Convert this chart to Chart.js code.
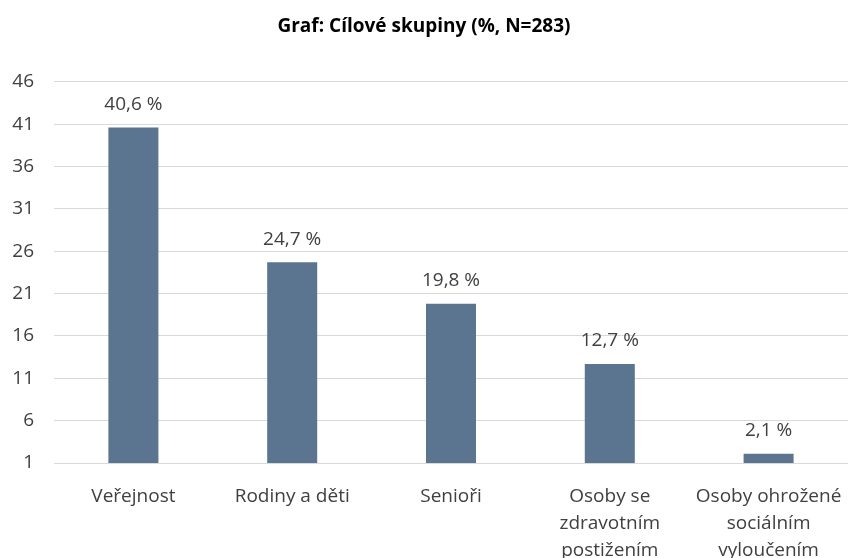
<!DOCTYPE html>
<html>
<head>
<meta charset="utf-8">
<script src="https://cdn.jsdelivr.net/npm/chart.js@4"></script>
<style>
  body { margin: 0; background: #fff; }
  #wrap { width: 850px; height: 558px; }
</style>
</head>
<body>
<div id="wrap"><canvas id="skupinyChart"></canvas></div>
<script>
var categories = ['Veřejnost', 'Rodiny a děti', 'Senioři', ['Osoby se', 'zdravotním', 'postižením'], ['Osoby ohrožené', 'sociálním', 'vyloučením']];
var values = [40.6, 24.7, 19.8, 12.7, 2.1];
var tickValues = [1, 6, 11, 16, 21, 26, 31, 36, 41, 46];

// popisky nad sloupci
var valueLabels = {
    id: 'valueLabels',
    afterDatasetsDraw: function (chart) {
        var ctx = chart.ctx;
        var meta = chart.getDatasetMeta(0);
        ctx.save();
        ctx.font = '19px "Open Sans"';
        ctx.fillStyle = '#404040';
        ctx.textAlign = 'center';
        ctx.textBaseline = 'middle';
        meta.data.forEach(function (bar, i) {
            ctx.fillText(values[i].toFixed(1).replace('.', ',') + ' %', bar.x, bar.y - 23);
        });
        ctx.restore();
    }
};

var ctx = document.getElementById('skupinyChart').getContext('2d');
var chart = new Chart(ctx, {
    type: 'bar',
    data: {
        labels: categories,
        datasets: [{
            data: values,
            backgroundColor: '#5b7590',
            barPercentage: 0.63,
            categoryPercentage: 0.5
        }]
    },
    options: {
        responsive: true,
        maintainAspectRatio: false,
        animation: false,
        layout: { padding: { top: 0, right: 2, bottom: 0, left: 0 } },
        plugins: {
            legend: { display: false },
            tooltip: { enabled: false },
            title: {
                display: true,
                text: 'Graf: Cílové skupiny (%, N=283)',
                color: '#000',
                font: { family: 'Open Sans', size: 19, weight: 'bold' },
                padding: { top: 15, bottom: 44 }
            }
        },
        scales: {
            x: {
                grid: { display: false },
                border: { display: false },
                afterFit: function (axis) {
                    axis.height = 95;
                    axis.paddingLeft = 0;
                    axis.paddingRight = 0;
                },
                ticks: {
                    color: '#404040',
                    font: { family: 'Open Sans', size: 19, lineHeight: 1.42 },
                    maxRotation: 0,
                    autoSkip: false,
                    padding: 12
                }
            },
            y: {
                min: 1,
                max: 46,
                afterBuildTicks: function (axis) {
                    axis.ticks = tickValues.map(function (v) { return { value: v }; });
                },
                afterFit: function (axis) {
                    axis.width = 54;
                },
                grid: { color: '#d9d9d9', lineWidth: 1, drawTicks: false },
                border: { display: false },
                ticks: {
                    color: '#404040',
                    font: { family: 'Open Sans', size: 19 },
                    padding: 20
                }
            }
        }
    },
    plugins: [valueLabels]
});
</script>
</body>
</html>
